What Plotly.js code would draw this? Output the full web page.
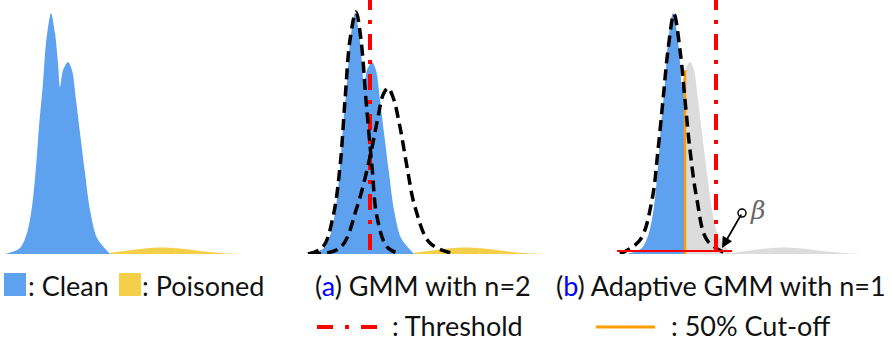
<!DOCTYPE html>
<html>
<head>
<meta charset="utf-8">
<script src="https://cdn.plot.ly/plotly-3.0.1.min.js"></script>
<style>
  html, body { margin: 0; padding: 0; background: #fff; }
  #chart { width: 892px; height: 343px; }
</style>
</head>
<body>
<div id="chart"></div>
<script>
// --- data (x = loss score, y = density) ---
const cleanX  = [5, 20, 27, 32, 36, 39, 43, 46, 51, 55, 58, 60, 63, 68, 72, 76, 80, 85, 90, 97, 110];
const cleanY  = [0, 0.024, 0.083, 0.185, 0.343, 0.5, 0.673, 0.831, 0.949, 0.87, 0.752, 0.657, 0.724, 0.756, 0.724, 0.606, 0.476, 0.319, 0.173, 0.063, 0];
const poisonX = [100, 120, 140, 160, 180, 200, 220, 240];
const poisonY = [0, 0.01, 0.02, 0.026, 0.022, 0.012, 0.004, 0];

// GMM with n=2 (two components)
const gmm2aX = [4, 19, 29, 36, 41, 46, 52, 57, 62, 68, 73, 83, 96];
const gmm2aY = [0, 0.028, 0.146, 0.343, 0.606, 0.843, 0.953, 0.843, 0.606, 0.343, 0.146, 0.028, 0];
const gmm2bX = [6, 36, 53, 66, 74, 79, 84, 89, 96, 103, 111, 126, 151];
const gmm2bY = [0, 0.024, 0.185, 0.382, 0.539, 0.626, 0.654, 0.618, 0.5, 0.343, 0.185, 0.043, 0];

// Adaptive GMM with n=1
const gmm1X = [-2, 18, 30, 36, 41, 46, 52, 58, 63, 68, 75, 85, 105];
const gmm1Y = [0, 0.055, 0.213, 0.409, 0.606, 0.803, 0.945, 0.803, 0.606, 0.409, 0.213, 0.055, 0];

const thresholdA = 66;   // panel (a)
const thresholdB = 94;   // panel (b)
const cutoff = 63;       // 50% cut-off
const betaLevel = 0.012;
const betaSpan = [-5, 110];
const betaTip = [100, 0.024];
const betaTail = [120, 0.161];

const BLUE = '#5ea1ef', YELLOW = '#f6cf4a', GRAY = '#dcdcdc';
const RED = '#ff0000', ORANGE = '#ff9d00';
const FONT = 'Lato, "Open Sans", sans-serif';
const TXT = 27;

// --- helpers ---
function fillTrace(x, y, color, ax) {
    return {
        x, y, xaxis: 'x' + ax, yaxis: 'y' + ax,
        type: 'scatter', mode: 'lines', fill: 'tozeroy',
        fillcolor: color, line: { color, width: 0, shape: 'spline', smoothing: 0.8 },
        hoverinfo: 'skip'
    };
}
function dashTrace(x, y, ax) {
    return {
        x, y, xaxis: 'x' + ax, yaxis: 'y' + ax,
        type: 'scatter', mode: 'lines',
        line: { color: '#000', width: 3.5, dash: '11px,6px', shape: 'spline', smoothing: 1 },
        hoverinfo: 'skip'
    };
}
function vline(xv, y0, y1, line, ax) {
    return {
        x: [xv, xv], y: [y0, y1], xaxis: 'x' + ax, yaxis: 'y' + ax,
        type: 'scatter', mode: 'lines', line, hoverinfo: 'skip'
    };
}

const cutIdx = cleanX.indexOf(cutoff);
const keptX = cleanX.slice(0, cutIdx + 1);
const keptY = cleanY.slice(0, cutIdx + 1);
const threshLine = { color: RED, width: 4, dash: '16px,10px,4px,10px' };

const traces = [
    // panel 1: data
    fillTrace(poisonX, poisonY, YELLOW, ''),
    fillTrace(cleanX, cleanY, BLUE, ''),

    // panel 2: GMM n=2
    fillTrace(poisonX, poisonY, YELLOW, '2'),
    fillTrace(cleanX, cleanY, BLUE, '2'),
    vline(thresholdA, 0.016, 1.05, threshLine, '2'),
    dashTrace(gmm2aX, gmm2aY, '2'),
    dashTrace(gmm2bX, gmm2bY, '2'),

    // panel 3: adaptive GMM n=1
    fillTrace(poisonX, poisonY, GRAY, '3'),
    fillTrace(cleanX, cleanY, GRAY, '3'),
    fillTrace(keptX, keptY, BLUE, '3'),
    vline(cutoff, 0, cleanY[cutIdx], { color: ORANGE, width: 2.5 }, '3'),
    dashTrace(gmm1X, gmm1Y, '3'),
    vline(thresholdB, 0.016, 1.05, threshLine, '3'),
    {
        x: betaSpan, y: [betaLevel, betaLevel], xaxis: 'x3', yaxis: 'y3',
        type: 'scatter', mode: 'lines', line: { color: RED, width: 2 }, hoverinfo: 'skip'
    },
    {
        x: [betaTail[0]], y: [betaTail[1]], xaxis: 'x3', yaxis: 'y3',
        type: 'scatter', mode: 'markers',
        marker: { symbol: 'circle-open', size: 8, color: '#000', line: { width: 1.5, color: '#000' } },
        hoverinfo: 'skip'
    }
];

const W = 892, H = 343;
const yDom = [89 / H, 1];
const hidden = { visible: false, fixedrange: true };
const px = v => v / W;
const py = v => (H - v) / H;

function label(x, y, text) {
    return { xref: 'paper', yref: 'paper', x: px(x), y: py(y), xanchor: 'left', yanchor: 'middle', showarrow: false, borderpad: 0, text, font: { size: TXT } };
}

const layout = {
    width: W, height: H,
    margin: { l: 0, r: 0, t: 0, b: 0 },
    paper_bgcolor: '#fff', plot_bgcolor: '#fff',
    showlegend: false,
    font: { family: FONT, color: '#111' },
    xaxis:  { ...hidden, domain: [0, px(280)], range: [0, 280] },
    xaxis2: { ...hidden, domain: [px(285), px(590)], range: [-19, 286] },
    xaxis3: { ...hidden, domain: [px(592), 1], range: [-30, 270] },
    yaxis:  { ...hidden, domain: yDom, range: [0, 1] },
    yaxis2: { ...hidden, domain: yDom, range: [0, 1], anchor: 'x2' },
    yaxis3: { ...hidden, domain: yDom, range: [0, 1], anchor: 'x3' },
    shapes: [
        { type: 'rect', xref: 'paper', yref: 'paper', x0: px(4), x1: px(26), y0: py(296), y1: py(273), fillcolor: BLUE, line: { width: 0 } },
        { type: 'rect', xref: 'paper', yref: 'paper', x0: px(119), x1: px(141), y0: py(296), y1: py(273), fillcolor: YELLOW, line: { width: 0 } },
        { type: 'line', xref: 'paper', yref: 'paper', x0: px(317), x1: px(377), y0: py(327), y1: py(327), line: { color: RED, width: 4, dash: '16px,12px,4px,12px' } },
        { type: 'line', xref: 'paper', yref: 'paper', x0: px(596), x1: px(655), y0: py(327), y1: py(327), line: { color: ORANGE, width: 3 } }
    ],
    annotations: [
        {
            xref: 'x3', yref: 'y3', x: betaTip[0], y: betaTip[1],
            axref: 'x3', ayref: 'y3', ax: betaTail[0], ay: betaTail[1],
            text: '', showarrow: true, arrowhead: 2, arrowsize: 1.2, arrowwidth: 1.8, arrowcolor: '#000'
        },
        {
            xref: 'x3', yref: 'y3', x: 126, y: 0.17, xanchor: 'left', yanchor: 'middle',
            text: '<i>β</i>', showarrow: false,
            font: { family: '"DejaVu Serif", serif', size: 25, color: '#666' }
        },
        label(27, 285, ': Clean'),
        label(141, 285, ': Poisoned'),
        label(314, 285, '(<span style="color:#0000ff">a</span>) GMM with n=2'),
        label(555, 285, '(<span style="color:#0000ff">b</span>) Adaptive GMM with n=1'),
        label(391, 325, ': Threshold'),
        label(670, 325, ': 50% Cut-off')
    ]
};

Plotly.newPlot('chart', traces, layout, { staticPlot: true, displayModeBar: false });
</script>
</body>
</html>
